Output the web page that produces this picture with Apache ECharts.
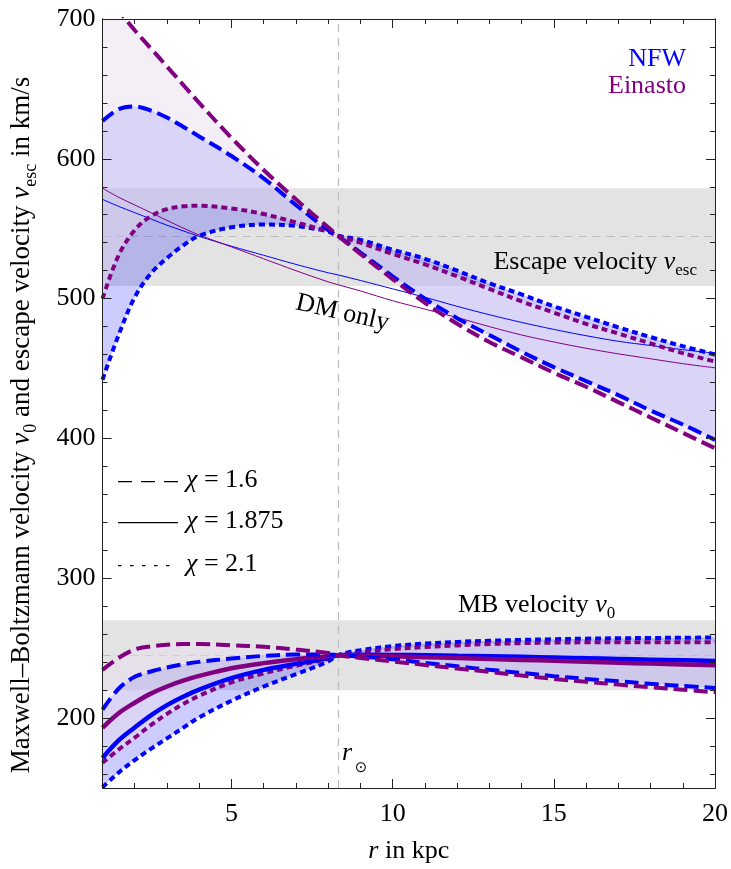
<!DOCTYPE html>
<html><head><meta charset="utf-8">
<script src="https://cdn.jsdelivr.net/npm/echarts@6/dist/echarts.min.js"></script>
<style>html,body{margin:0;padding:0;background:#fff}#c{width:731px;height:869px}</style>
</head><body><div id="c"></div>
<script>
// ---------- data ----------
const r = [1, 1.5, 2, 2.5, 3, 3.5, 4, 5, 6, 7, 8, 8.3, 9, 10, 11, 12, 13, 14, 15, 16, 17, 18, 19, 20];

// escape velocity (km/s)
const escNfwDashed = [627, 635.5, 637.5, 634.5, 629.5, 623, 616, 602, 586, 567, 549, 545, 533, 516, 500, 486, 474, 462, 451, 441, 431, 420, 410, 399];
const escEinDashed = [720, 706, 692, 679, 666, 653, 640, 615, 592, 571, 551, 545, 532, 514, 497, 482, 469, 458, 447, 437, 426, 415, 404, 393];
const escNfwDotted = [442, 474, 501, 518, 529, 538, 545, 551, 553, 552, 548, 545, 542, 535, 528.5, 520, 511, 503, 494.5, 487, 479.5, 472.5, 466, 460];
const escEinDotted = [500, 531, 549, 559, 564, 566, 566.5, 564.5, 560.5, 554.5, 548, 545, 540, 532, 524.5, 516, 507, 498, 490, 482, 475, 468, 461, 455];
const escDmNfw = [571, 566, 561.5, 557, 552.5, 548.5, 544.5, 537.5, 531, 524.5, 518.5, 517, 513, 507, 501, 494.5, 488.5, 483, 478, 473.5, 469.5, 466.5, 463.5, 461];
const escDmEin = [579, 572.5, 567, 561.5, 556, 550.5, 545.5, 537, 528.5, 520, 512, 510, 505.5, 498.5, 492.5, 486.5, 480, 474, 469, 464.5, 460.5, 457, 453.5, 450.5];

// Maxwell-Boltzmann velocity v0 (km/s)
const mbNfwDashed = [206, 221, 229.5, 233.3, 236.2, 238.5, 240.2, 242.6, 244.5, 245.5, 245.5, 245, 244, 242, 239.5, 237, 234.5, 232.3, 230, 228, 226.3, 224.5, 223, 221.5];
const mbEinDashed = [234.5, 243, 249, 251.3, 252.5, 253, 253, 252, 251, 249, 246.5, 245, 243, 240.5, 238, 235.5, 233, 230.5, 228, 226, 224, 222, 220.3, 218.5];
const mbNfwSolid = [171.5, 184, 193.3, 202, 209.3, 215.3, 220.4, 228.6, 234.5, 238.8, 243, 245, 245.3, 245.2, 245, 244.6, 244.2, 243.8, 243.3, 242.8, 242.3, 241.8, 241.3, 240.8];
const mbEinSolid = [193, 203.5, 211, 217.5, 222.6, 226.8, 230.2, 235.7, 239.3, 242.1, 244.3, 245, 244.8, 244.3, 243.6, 243, 242.3, 241.6, 241, 240.3, 239.6, 239, 238.4, 237.8];
const mbNfwDotted = [150.5, 161, 170, 178, 185.5, 193, 200.5, 212.4, 222.6, 231.4, 240.5, 245, 248.5, 251.5, 253.3, 254.5, 255.3, 255.9, 256.4, 256.8, 257.1, 257.3, 257.5, 257.6];
const mbEinDotted = [168, 177.5, 186, 195, 203, 210, 216, 225.5, 232, 237.4, 242.5, 245, 247, 249.3, 250.8, 252, 253, 253.6, 254, 254.2, 254.3, 254.3, 254.3, 254.3];

// reference values
const rSun = 8.3;
const vEscBand = [509, 579];
const vEscCenter = 544.5;
const v0Band = [220, 270];
const v0Center = 245;

// ticks
const xMajor = [5, 10, 15, 20];
const xMinor = [2, 3, 4, 6, 7, 8, 9, 11, 12, 13, 14, 16, 17, 18, 19];
const yMajor = [200, 300, 400, 500, 600, 700];
const yMinor = [160, 180, 220, 240, 260, 280, 320, 340, 360, 380, 420, 440, 460, 480, 520, 540, 560, 580, 620, 640, 660, 680];

// ---------- styling ----------
const FONT = '"Liberation Serif", "Times New Roman", serif';
const FRAME = '#222';
const BLUE = '#0000ff';
const PURPLE = '#800080';
const NFW_FILL = 'rgba(0,0,255,0.2)';
const EIN_FILL = 'rgba(232,220,237,0.49)';
const DASH = [14, 6];
const DOT = [6, 4];
const SM = 0.35;

const pts = ys => r.map((x, i) => [x, ys[i]]);
// value first, r second (so the stacked dimension is the y value)
const ptsVR = ys => r.map((x, i) => [ys[i], x]);
const diff = (a, b) => a.map((v, i) => v - b[i]);

function band(stack, lower, upper, color) {
  return [
    {type: 'line', stack, stackStrategy: 'all', data: ptsVR(lower), encode: {x: 1, y: 0},
     smooth: SM, symbol: 'none', lineStyle: {width: 0, opacity: 0}, z: 2, silent: true},
    {type: 'line', stack, stackStrategy: 'all', data: ptsVR(diff(upper, lower)), encode: {x: 1, y: 0},
     smooth: SM, symbol: 'none', lineStyle: {width: 0, opacity: 0}, areaStyle: {color, opacity: 1}, z: 2, silent: true}
  ];
}
function curve(ys, color, type, width, z) {
  return {type: 'line', data: pts(ys), smooth: SM, symbol: 'none',
          lineStyle: {color, width, type, cap: 'butt'}, z: z || 4, silent: true};
}
function xAx(pos, ticks, len, labels, extra) {
  return Object.assign({
    type: 'value', min: 1, max: 20, position: pos, z: 10,
    axisLine: {show: true, onZero: false, lineStyle: {color: FRAME, width: 1}},
    axisTick: {show: true, inside: true, length: len, customValues: ticks, lineStyle: {color: FRAME, width: 1}},
    axisLabel: {show: labels, customValues: ticks, margin: 13, color: '#000', fontFamily: FONT, fontSize: 26},
    splitLine: {show: false}
  }, extra || {});
}
function yAx(pos, ticks, len, labels, extra) {
  return Object.assign({
    type: 'value', min: 150, max: 700, position: pos, z: 10,
    axisLine: {show: true, onZero: false, lineStyle: {color: FRAME, width: 1}},
    axisTick: {show: true, inside: true, length: len, customValues: ticks, lineStyle: {color: FRAME, width: 1}},
    axisLabel: {show: labels, customValues: ticks, margin: 7, color: '#000', fontFamily: FONT, fontSize: 26},
    splitLine: {show: false}
  }, extra || {});
}

const richBase = {
  t: {fontFamily: FONT, fontSize: 26, lineHeight: 34, color: '#000'},
  i: {fontFamily: FONT, fontSize: 26, lineHeight: 34, fontStyle: 'italic', color: '#000'},
  s: {fontFamily: FONT, fontSize: 17, lineHeight: 18, verticalAlign: 'bottom', color: '#000'}
};
const richTitle = {
  t: {fontFamily: FONT, fontSize: 27, lineHeight: 36, color: '#000'},
  i: {fontFamily: FONT, fontSize: 27, lineHeight: 36, fontStyle: 'italic', color: '#000'},
  s: {fontFamily: FONT, fontSize: 18, lineHeight: 19, verticalAlign: 'bottom', color: '#000'}
};

const series = [];
// reference band / lines host
series.push({
  type: 'line', data: [], silent: true, z: 1,
  markArea: {silent: true, z: 0, itemStyle: {color: '#e3e3e3'},
    data: [[{yAxis: vEscBand[0]}, {yAxis: vEscBand[1]}], [{yAxis: v0Band[0]}, {yAxis: v0Band[1]}]]},
  markLine: {silent: true, z: 1, symbol: 'none', label: {show: false},
    lineStyle: {color: '#bdbdbd', width: 1.2, type: [8, 6]},
    data: [{yAxis: vEscCenter}, {yAxis: v0Center}, {xAxis: rSun}]}
});
// fills: NFW first, Einasto on top
series.push(...band('nE', escNfwDotted, escNfwDashed, NFW_FILL));
series.push(...band('nM', mbNfwDotted, mbNfwDashed, NFW_FILL));
series.push(...band('eE', escEinDotted, escEinDashed, EIN_FILL));
series.push(...band('eM', mbEinDotted, mbEinDashed, EIN_FILL));
// DM only
series.push(curve(escDmNfw, BLUE, 'solid', 1, 3));
series.push(curve(escDmEin, PURPLE, 'solid', 1, 3));
// escape curves
series.push(curve(escNfwDotted, BLUE, DOT, 4));
series.push(curve(escEinDotted, PURPLE, DOT, 4));
series.push(curve(escNfwDashed, BLUE, DASH, 4));
series.push(curve(escEinDashed, PURPLE, DASH, 4));
// MB curves
series.push(curve(mbNfwDotted, BLUE, DOT, 4));
series.push(curve(mbEinDotted, PURPLE, DOT, 4));
series.push(curve(mbNfwSolid, BLUE, 'solid', 4.5));
series.push(curve(mbEinSolid, PURPLE, 'solid', 4.5));
series.push(curve(mbNfwDashed, BLUE, DASH, 4));
series.push(curve(mbEinDashed, PURPLE, DASH, 4));

const txt = (x, y, text, extra, elExtra) => Object.assign({type: 'text', x, y, z: 20, silent: true,
  style: Object.assign({text, fill: '#000', font: '26px ' + FONT, align: 'left', verticalAlign: 'middle'}, extra || {})},
  elExtra || {});

const option = {
  animation: false,
  backgroundColor: '#fff',
  grid: {left: 102.5, right: 12.5, top: 19, bottom: 80, containLabel: false},
  xAxis: [
    xAx('bottom', xMajor, 9, true, {
      name: '{i|r}{t| in kpc}', nameLocation: 'middle', nameGap: 46,
      nameTextStyle: {rich: richBase}
    }),
    xAx('bottom', xMinor, 5, false),
    xAx('top', xMajor, 9, false),
    xAx('top', xMinor, 5, false)
  ],
  yAxis: [
    yAx('left', yMajor, 9, true),
    yAx('left', yMinor, 5, false),
    yAx('right', yMajor, 9, false),
    yAx('right', yMinor, 5, false)
  ],
  series: series.map(s => Object.assign({xAxisIndex: 0, yAxisIndex: 0}, s)),
  graphic: [
    txt(22, 425, '{t|Maxwell–Boltzmann velocity }{i|v}{s|0}{t| and escape velocity }{i|v}{s|esc}{t| in km/s}',
        {align: 'center', rich: richTitle}, {rotation: Math.PI / 2}),
    txt(686, 59.5, 'NFW', {fill: BLUE, align: 'right'}),
    txt(686, 86.2, 'Einasto', {fill: PURPLE, align: 'right'}),
    txt(697, 262, '{t|Escape velocity }{i|v}{s|esc}', {align: 'right', rich: richBase}),
    txt(458, 605, '{t|MB velocity }{i|v}{s|0}', {align: 'left', rich: richBase}),
    txt(342.5, 313, 'DM only', {align: 'center'}, {rotation: -0.227}),
    txt(342, 753, 'r', {font: 'italic 26px ' + FONT}),
    txt(361, 768, '⊙', {font: '15px "DejaVu Sans"', align: 'center'}),
    {type: 'line', z: 20, silent: true, shape: {x1: 118, y1: 481.7, x2: 178, y2: 481.7}, style: {stroke: '#000', lineWidth: 1.3, lineDash: [14, 9]}},
    {type: 'line', z: 20, silent: true, shape: {x1: 118, y1: 522.7, x2: 178, y2: 522.7}, style: {stroke: '#000', lineWidth: 1.3}},
    {type: 'line', z: 20, silent: true, shape: {x1: 118, y1: 565.7, x2: 178, y2: 565.7}, style: {stroke: '#000', lineWidth: 1.3, lineDash: [3.5, 8.5]}},
    txt(186, 480.5, '{i|χ}{t| = 1.6}', {rich: richBase}),
    txt(186, 521.2, '{i|χ}{t| = 1.875}', {rich: richBase}),
    txt(186, 563.9, '{i|χ}{t| = 2.1}', {rich: richBase})
  ]
};

const chart = echarts.init(document.getElementById('c'), null, {renderer: 'canvas'});
chart.setOption(option);
</script>
</body></html>
